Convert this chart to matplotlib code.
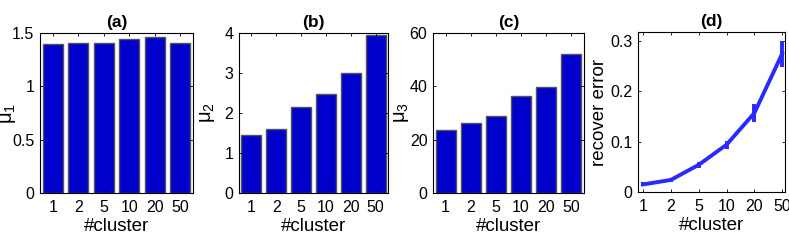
import matplotlib
matplotlib.use("Agg")
import matplotlib.pyplot as plt
import numpy as np

clusters = ["1", "2", "5", "10", "20", "50"]
mu1 = [1.40, 1.41, 1.405, 1.44, 1.46, 1.41]
mu2 = [1.44, 1.59, 2.14, 2.47, 3.00, 3.96]
mu3 = [23.7, 26.2, 29.0, 36.2, 39.7, 52.3]
recover_err = [0.015, 0.024, 0.054, 0.094, 0.157, 0.275]
recover_std = [0.004, 0.004, 0.006, 0.008, 0.017, 0.026]

plt.rcParams.update(
    {
        "font.family": ["Liberation Sans", "DejaVu Sans"],
        "mathtext.fontset": "custom",
        "mathtext.rm": "Liberation Sans",
        "mathtext.it": "Liberation Sans",
        "xtick.direction": "in",
        "ytick.direction": "in",
        "xtick.top": True,
        "ytick.right": True,
        "xtick.major.size": 2.5,
        "ytick.major.size": 2.5,
        "xtick.major.width": 0.6,
        "ytick.major.width": 0.6,
        "axes.linewidth": 0.8,
    }
)

W, H = 789, 242
fig = plt.figure(figsize=(W / 100, H / 100), dpi=100)


def add_axes(x0, x1, y_top=33, y_bot=193):
    return fig.add_axes([x0 / W, 1 - y_bot / H, (x1 - x0) / W, (y_bot - y_top) / H])


bar_color = "#0000cc"
edge_color = "#555555"
tick_fs = 11.5
label_fs = 13.5
title_fs = 12.5


def bar_panel(ax, values, ylim, yticks, yticklabels, ylabel, title):
    x = np.arange(len(clusters))
    ax.bar(x, values, width=0.8, color=bar_color, edgecolor=edge_color, linewidth=1.0)
    ax.set_xlim(-0.5, len(clusters) - 0.5)
    ax.set_ylim(*ylim)
    ax.set_xticks(x)
    ax.set_xticklabels(clusters, fontsize=tick_fs)
    ax.set_yticks(yticks)
    ax.set_yticklabels(yticklabels, fontsize=tick_fs)
    ax.set_xlabel("#cluster", fontsize=label_fs, labelpad=2)
    ax.set_ylabel(ylabel, fontsize=label_fs + 1)
    ax.yaxis.set_label_coords(-0.145, 0.5)
    ax.set_title(title, fontsize=title_fs, fontweight="bold", pad=4)
    ax.tick_params(axis="x", pad=5)
    ax.tick_params(axis="y", pad=4)


ax_a = add_axes(40, 193)
bar_panel(ax_a, mu1, (0, 1.5), [0, 0.5, 1, 1.5], ["0", "0.5", "1", "1.5"], "μ$_1$", "(a)")

ax_b = add_axes(239, 388)
bar_panel(ax_b, mu2, (0, 4), [0, 1, 2, 3, 4], ["0", "1", "2", "3", "4"], "μ$_2$", "(b)")

ax_c = add_axes(433, 584)
bar_panel(ax_c, mu3, (0, 60), [0, 20, 40, 60], ["0", "20", "40", "60"], "μ$_3$", "(c)")

ax_d = add_axes(638, 785, 32, 192)
x = np.arange(len(clusters))
ax_d.errorbar(x, recover_err, yerr=recover_std, color="#2a2aff", linewidth=2.8,
              elinewidth=2.8, capsize=0)
ax_d.set_xlim(-0.18, 5.1)
ax_d.set_ylim(0, 0.318)
ax_d.set_xticks(x)
ax_d.set_xticklabels(clusters, fontsize=tick_fs)
ax_d.set_yticks([0, 0.1, 0.2, 0.3])
ax_d.set_yticklabels(["0", "0.1", "0.2", "0.3"], fontsize=tick_fs)
ax_d.set_xlabel("#cluster", fontsize=label_fs, labelpad=2)
ax_d.set_ylabel("recover error", fontsize=label_fs)
ax_d.yaxis.set_label_coords(-0.204, 0.5)
ax_d.set_title("(d)", fontsize=title_fs, fontweight="bold", pad=4)
ax_d.tick_params(axis="x", pad=5)
ax_d.tick_params(axis="y", pad=4)

fig.savefig("out.png", dpi=100)
